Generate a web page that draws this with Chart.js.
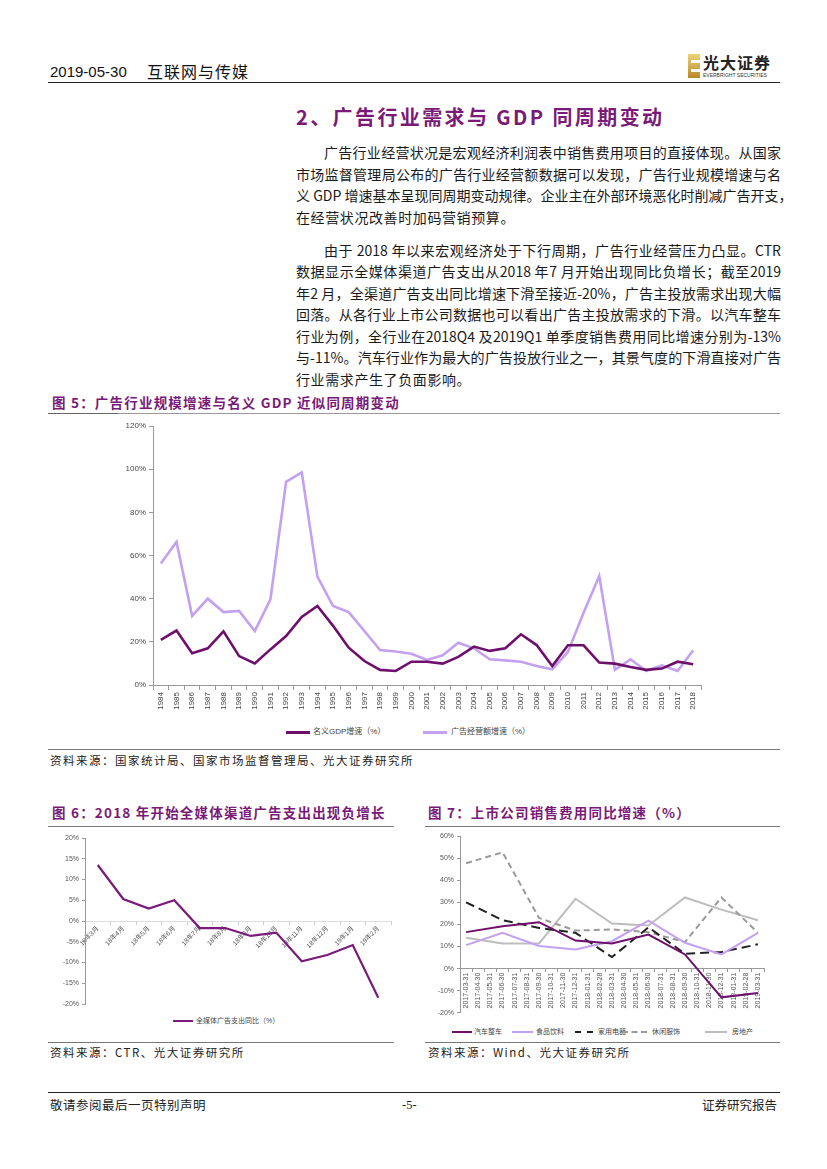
<!DOCTYPE html>
<html><head><meta charset="utf-8">
<script src="https://cdn.jsdelivr.net/npm/chart.js@4.4.1/dist/chart.umd.min.js"></script>
<style>
html,body{margin:0;padding:0;background:#fff;}
body{width:827px;height:1169px;position:relative;overflow:hidden;font-family:"Noto Sans CJK SC","DejaVu Sans",sans-serif;color:#222;}
.abs{position:absolute;white-space:nowrap;}
.ln{position:absolute;left:296px;width:485px;height:21px;line-height:21px;font-size:14px;text-align:justify;text-align-last:justify;white-space:nowrap;color:#1a1a1a;}
.ln.last{text-align-last:left;letter-spacing:0.6px;}
.ind{padding-left:28px;width:457px;}
.ftitle{position:absolute;font-size:13.5px;font-weight:bold;color:#7A1A78;white-space:nowrap;line-height:16px;letter-spacing:1.2px;}
.hr{position:absolute;height:0;}
.src{position:absolute;font-size:11.5px;color:#222;white-space:nowrap;line-height:14px;letter-spacing:1.5px;}
.lg{position:absolute;font-size:8px;color:#444;white-space:nowrap;font-family:"Liberation Sans","Noto Sans CJK SC",sans-serif;line-height:10px;}
.lgl{position:absolute;height:0;}
canvas{position:absolute;}
</style></head>
<body>
<!-- header -->
<div class="abs" style="left:50px;top:62px;font-size:15px;font-family:'Liberation Sans Narrow','Liberation Sans';line-height:20px;color:#111;">2019-05-30</div>
<div class="abs" style="left:147px;top:61px;font-size:16px;letter-spacing:1px;line-height:20px;color:#111;">互联网与传媒</div>
<div class="abs" style="left:688px;top:54px;width:12px;height:24px;background:linear-gradient(180deg,#F0D27A,#B8892C);"></div>
<div class="abs" style="left:691px;top:60px;width:9px;height:3px;background:#fff;"></div>
<div class="abs" style="left:691px;top:69px;width:9px;height:3px;background:#fff;"></div>
<div class="abs" style="left:703px;top:53px;font-size:16px;font-weight:bold;line-height:18px;color:#222;letter-spacing:1px;">光大证券</div>
<div class="abs" style="left:703px;top:72px;font-size:5px;line-height:6px;color:#333;font-family:'Liberation Sans';">EVERBRIGHT SECURITIES</div>
<div class="hr" style="left:48px;top:82px;width:732px;border-top:1.5px solid #222;"></div>

<!-- heading -->
<div class="abs" style="left:296px;top:105px;font-size:20px;font-weight:bold;color:#7A1A78;line-height:24px;letter-spacing:2.4px;">2、广告行业需求与 GDP 同周期变动</div>

<!-- paragraphs -->
<div class="ln ind" style="top:142px;">广告行业经营状况是宏观经济利润表中销售费用项目的直接体现。从国家</div>
<div class="ln" style="top:164px;">市场监督管理局公布的广告行业经营额数据可以发现，广告行业规模增速与名</div>
<div class="ln" style="top:185px;">义 GDP 增速基本呈现同周期变动规律。企业主在外部环境恶化时削减广告开支，</div>
<div class="ln last" style="top:207px;">在经营状况改善时加码营销预算。</div>
<div class="ln ind" style="top:240px;">由于 2018 年以来宏观经济处于下行周期，广告行业经营压力凸显。CTR</div>
<div class="ln" style="top:261px;">数据显示全媒体渠道广告支出从2018 年7 月开始出现同比负增长；截至2019</div>
<div class="ln" style="top:283px;">年2 月，全渠道广告支出同比增速下滑至接近-20%，广告主投放需求出现大幅</div>
<div class="ln" style="top:304px;">回落。从各行业上市公司数据也可以看出广告主投放需求的下滑。以汽车整车</div>
<div class="ln" style="top:326px;">行业为例，全行业在2018Q4 及2019Q1 单季度销售费用同比增速分别为-13%</div>
<div class="ln" style="top:347px;">与-11%。汽车行业作为最大的广告投放行业之一，其景气度的下滑直接对广告</div>
<div class="ln last" style="top:369px;">行业需求产生了负面影响。</div>

<!-- figure 5 -->
<div class="ftitle" style="left:52px;top:394px;">图 5：广告行业规模增速与名义 GDP 近似同周期变动</div>
<div class="hr" style="left:48px;top:413px;width:732px;border-top:1.5px solid #999;"></div>
<div class="hr" style="left:48px;top:413px;width:70px;border-top:1.5px solid #666;"></div>
<canvas id="c5" width="610" height="310" style="left:100px;top:416px;width:610px;height:310px;"></canvas>
<div class="lgl" style="left:286px;top:731px;width:24px;border-top:3px solid #6E0F6C;"></div>
<div class="lg" style="left:313px;top:727px;">名义GDP增速（%）</div>
<div class="lgl" style="left:423px;top:731px;width:24px;border-top:3px solid #C3A0F0;"></div>
<div class="lg" style="left:451px;top:727px;">广告经营额增速（%）</div>
<div class="hr" style="left:48px;top:749px;width:732px;border-top:1px solid #777;"></div>
<div class="src" style="left:50px;top:753px;">资料来源：国家统计局、国家市场监督管理局、光大证券研究所</div>

<!-- figure 6 -->
<div class="ftitle" style="left:52px;top:804px;">图 6：2018 年开始全媒体渠道广告支出出现负增长</div>
<div class="hr" style="left:48px;top:826px;width:346px;border-top:1.5px solid #777;"></div>
<canvas id="c6" width="360" height="186" style="left:40px;top:828px;width:360px;height:186px;"></canvas>
<div class="lgl" style="left:173px;top:1020px;width:20px;border-top:2.5px solid #7A1A7A;"></div>
<div class="lg" style="left:196px;top:1016px;font-size:7px;">全媒体广告支出同比（%）</div>
<div class="hr" style="left:48px;top:1042px;width:346px;border-top:1px solid #777;"></div>
<div class="src" style="left:50px;top:1045px;">资料来源：CTR、光大证券研究所</div>

<!-- figure 7 -->
<div class="ftitle" style="left:428px;top:804px;">图 7：上市公司销售费用同比增速（%）</div>
<div class="hr" style="left:425px;top:826px;width:355px;border-top:1.5px solid #777;"></div>
<canvas id="c7" width="360" height="192" style="left:420px;top:828px;width:360px;height:192px;"></canvas>
<div class="lgl" style="left:452px;top:1031px;width:20px;border-top:2px solid #6E0F6C;"></div>
<div class="lg" style="left:474px;top:1027px;font-size:7px;">汽车整车</div>
<div class="lgl" style="left:512px;top:1031px;width:21px;border-top:2px solid #C3A0F0;"></div>
<div class="lg" style="left:536px;top:1027px;font-size:7px;">食品饮料</div>
<div class="lgl" style="left:575px;top:1031px;width:18px;border-top:2px dashed #222;"></div>
<div class="lg" style="left:598px;top:1027px;font-size:7px;">家用电器</div>
<div class="lgl" style="left:622px;top:1031px;width:25px;border-top:2px dashed #999;"></div>
<div class="lg" style="left:652px;top:1027px;font-size:7px;">休闲服饰</div>
<div class="lgl" style="left:705px;top:1031px;width:22px;border-top:2px solid #BDBDBD;"></div>
<div class="lg" style="left:732px;top:1027px;font-size:7px;">房地产</div>
<div class="hr" style="left:425px;top:1042px;width:355px;border-top:1px solid #777;"></div>
<div class="src" style="left:428px;top:1045px;">资料来源：Wind、光大证券研究所</div>

<!-- footer -->
<div class="hr" style="left:48px;top:1092px;width:732px;border-top:1px solid #222;"></div>
<div class="abs" style="left:50px;top:1097px;font-size:12.5px;line-height:16px;color:#222;letter-spacing:0.5px;">敬请参阅最后一页特别声明</div>
<div class="abs" style="left:402px;top:1097px;font-size:12.5px;line-height:16px;color:#222;font-family:'Liberation Serif';">-5-</div>
<div class="abs" style="left:702px;top:1097px;font-size:12.5px;line-height:16px;color:#222;">证券研究报告</div>

<script>
// ---------- Figure 5 data ----------
const years5 = ["1984","1985","1986","1987","1988","1989","1990","1991","1992","1993","1994","1995","1996","1997","1998","1999","2000","2001","2002","2003","2004","2005","2006","2007","2008","2009","2010","2011","2012","2013","2014","2015","2016","2017","2018"];
const gdpGrowth = [20.9,25.2,14.7,17.0,24.9,13.4,10.0,16.5,22.7,31.5,36.6,27.4,17.3,11.1,7.0,6.5,10.8,10.8,9.9,13.0,17.8,15.8,17.0,23.5,18.5,8.8,18.4,18.4,10.4,9.9,8.3,7.0,7.6,10.8,9.6];
const adGrowth = [56.3,66.3,32.0,40.0,33.8,34.3,25.0,39.7,94.1,98.5,50.2,36.6,33.8,25.0,16.2,15.5,14.5,11.6,13.8,19.6,17.0,11.9,11.4,10.8,8.8,7.3,15.3,33.5,50.5,7.0,11.9,6.5,9.1,6.5,16.1];
const yTicks5 = [0,20,40,60,80,100,120];

// ---------- Figure 6 data ----------
const months6 = ["18年3月","18年4月","18年5月","18年6月","18年7月","18年8月","18年9月","18年10月","18年11月","18年12月","19年1月","19年2月"];
const adSpend6 = [13.5,5.3,3.0,5.0,-1.7,-1.7,-3.6,-2.8,-9.7,-8.2,-5.8,-18.5];

// ---------- Figure 7 data ----------
const dates7 = ["2017-03-31","2017-04-30","2017-05-31","2017-06-30","2017-07-31","2017-08-31","2017-09-30","2017-10-31","2017-11-30","2017-12-31","2018-01-31","2018-02-28","2018-03-31","2018-04-30","2018-05-31","2018-06-30","2018-07-31","2018-08-31","2018-09-30","2018-10-31","2018-11-30","2018-12-31","2019-01-31","2019-02-28","2019-03-31"];
const autoSeries = [16.5,null,null,19.2,null,null,21.0,null,null,12.7,null,null,11.4,null,null,15.4,null,null,6.4,null,null,-13.0,null,null,-11.0];
const foodSeries = [10.6,null,null,16.2,null,null,10.2,null,null,8.7,null,null,12.4,null,null,21.7,null,null,11.7,null,null,6.4,null,null,16.2];
const applianceSeries = [30.0,null,null,21.9,null,null,18.4,null,null,16.2,null,null,5.2,null,null,18.7,null,null,6.7,null,null,7.5,null,null,11.0];
const apparelSeries = [47.7,null,null,52.6,null,null,22.9,null,null,17.2,null,null,17.7,null,null,16.5,null,null,12.0,null,null,32.2,null,null,16.2];
const realEstateSeries = [14.0,null,null,11.4,null,null,11.4,null,null,31.6,null,null,20.4,null,null,19.5,null,null,32.2,null,null,26.7,null,null,21.9];

Chart.defaults.animation = false;
Chart.defaults.responsive = false;
Chart.defaults.devicePixelRatio = 1;
Chart.defaults.font.family = "'Liberation Sans', 'Noto Sans CJK SC', sans-serif";
Chart.defaults.plugins.legend.display = false;
Chart.defaults.plugins.tooltip.enabled = false;
Chart.defaults.elements.point.radius = 0;
Chart.defaults.elements.line.tension = 0;

const pct = v => v + '%';

new Chart(document.getElementById('c5'), {
  type: 'line',
  data: { labels: years5, datasets: [
    { data: gdpGrowth, borderColor: '#6E0F6C', borderWidth: 2.6 },
    { data: adGrowth, borderColor: '#C3A0F0', borderWidth: 2.6 }
  ]},
  options: {
    layout: { padding: { top: 10, right: 9, left: 0, bottom: 0 } },
    scales: {
      x: { offset: true, afterFit: s => { s.height = 41; },
        grid: { offset: true, drawOnChartArea: false, tickLength: 5, color: '#999' },
        border: { color: '#999' },
        ticks: { autoSkip: false, minRotation: 90, maxRotation: 90, font: { size: 8 }, color: '#444', padding: 2 } },
      y: { min: 0, max: 120, afterFit: s => { s.width = 53; },
        afterBuildTicks: s => { s.ticks = yTicks5.map(v => ({ value: v })); },
        grid: { drawOnChartArea: false, tickLength: 4, color: '#999' },
        border: { color: '#999' },
        ticks: { callback: pct, font: { size: 8 }, color: '#444', padding: 3 } }
    }
  }
});

new Chart(document.getElementById('c6'), {
  type: 'line',
  data: { labels: months6, datasets: [
    { data: adSpend6, borderColor: '#7A1A7A', borderWidth: 2.2 }
  ]},
  options: {
    layout: { padding: { top: 10, right: 9, left: 0, bottom: 10 } },
    scales: {
      x: { position: { y: 0 }, offset: true,
        grid: { offset: true, drawOnChartArea: false, tickLength: 3, color: '#ccc' },
        border: { color: '#ddd' },
        ticks: { autoSkip: false, minRotation: 45, maxRotation: 45, font: { size: 6.5 }, color: '#555', padding: 1 } },
      y: { min: -20, max: 20, afterFit: s => { s.width = 45; },
        ticks: { stepSize: 5, callback: pct, font: { size: 7 }, color: '#555', padding: 3 },
        grid: { drawOnChartArea: false, tickLength: 3, color: '#999' },
        border: { color: '#999' } }
    }
  }
});

new Chart(document.getElementById('c7'), {
  type: 'line',
  data: { labels: dates7, datasets: [
    { data: autoSeries, borderColor: '#6E0F6C', borderWidth: 2, spanGaps: true },
    { data: foodSeries, borderColor: '#C3A0F0', borderWidth: 2, spanGaps: true },
    { data: applianceSeries, borderColor: '#222', borderWidth: 2, borderDash: [9, 5], spanGaps: true },
    { data: apparelSeries, borderColor: '#9A9A9A', borderWidth: 2, borderDash: [6, 4], spanGaps: true },
    { data: realEstateSeries, borderColor: '#BDBDBD', borderWidth: 2, spanGaps: true }
  ]},
  options: {
    layout: { padding: { top: 8, right: 16, left: 0, bottom: 6 } },
    scales: {
      x: { position: { y: 0 }, offset: true,
        grid: { offset: true, drawOnChartArea: false, tickLength: 3, color: '#999' },
        border: { color: '#999' },
        ticks: { autoSkip: false, minRotation: 90, maxRotation: 90, font: { size: 7 }, color: '#555', padding: 1 } },
      y: { min: -20, max: 60, afterFit: s => { s.width = 40; },
        ticks: { stepSize: 10, callback: pct, font: { size: 7 }, color: '#555', padding: 3 },
        grid: { drawOnChartArea: false, tickLength: 3, color: '#999' },
        border: { color: '#999' } }
    }
  }
});
</script>
</body></html>
